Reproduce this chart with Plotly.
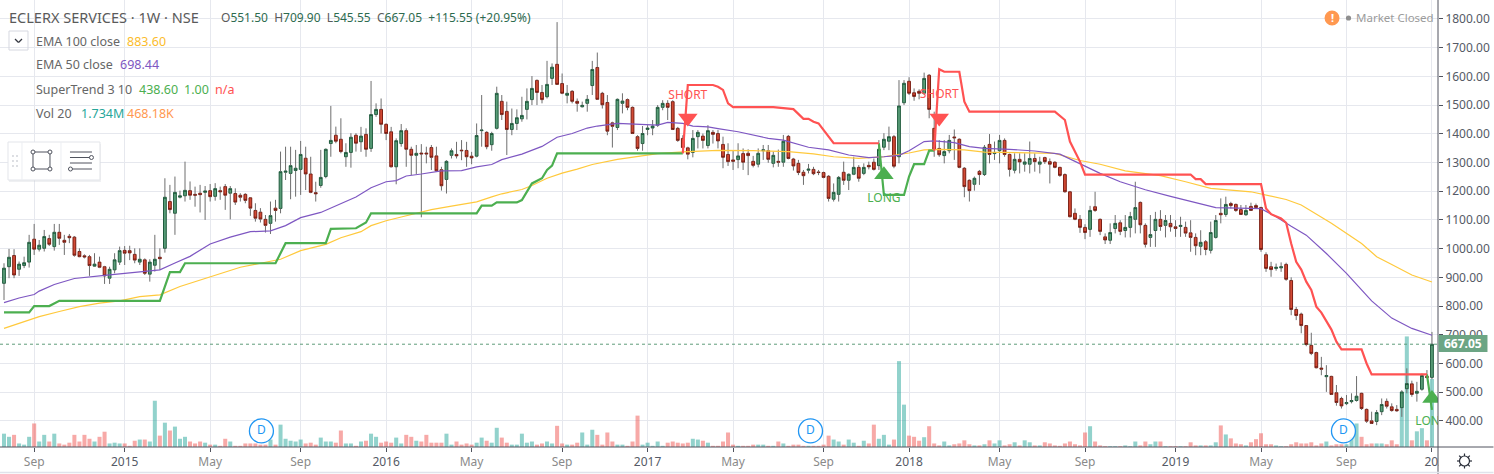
import math
import pandas as pd
import plotly.graph_objects as go

# ---------- data ----------
opens = [879,937,976,928,941,953,1033,998,1001,1035,
1007,1057,1029,1043,1040,990,975,972,939,953,
937,897,926,953,994,993,980,953,961,911,
942,970,1001,1164,1123,1179,1184,1202,1189,1193,
1196,1202,1182,1202,1216,1193,1192,1186,1189,1177,
1133,1127,1102,1088,1141,1140,1266,1262,1272,1276,
1315,1260,1195,1220,1251,1366,1395,1381,1320,1335,
1395,1372,1398,1349,1467,1485,1433,1407,1285,1366,
1411,1346,1325,1333,1333,1352,1323,1275,1241,1325,
1328,1343,1342,1322,1322,1411,1405,1362,1419,1513,
1478,1415,1436,1452,1485,1519,1586,1544,1529,1593,
1642,1575,1534,1548,1513,1494,1506,1568,1631,1541,
1509,1438,1422,1506,1519,1492,1390,1366,1415,1420,
1430,1492,1506,1512,1419,1384,1351,1335,1390,1392,
1359,1405,1401,1363,1328,1309,1310,1331,1332,1304,
1294,1341,1341,1297,1304,1301,1391,1312,1297,1266,
1273,1276,1267,1265,1252,1172,1189,1266,1238,1259,
1283,1262,1290,1301,1289,1353,1374,1390,1320,1508,
1583,1543,1548,1541,1604,1419,1349,1324,1341,1389,
1381,1280,1238,1224,1269,1258,1363,1331,1341,1377,
1328,1273,1311,1294,1294,1314,1294,1317,1303,1301,
1283,1258,1198,1123,1102,1074,1067,1146,1102,1041,
1029,1070,1090,1063,1074,1102,1161,1081,1039,1063,
1102,1081,1088,1076,1077,1074,1055,1039,1008,1024,
994,1039,1123,1119,1157,1154,1136,1118,1147,1150,
1143,979,937,931,933,945,889,788,772,732,
663,638,584,554,555,498,478,460,467,471,
496,440,400,398,432,468,449,440,446,512,
529,496,510,555,551.5]

highs = [949,999,998,955,972,1048,1086,1030,1065,1048,
1086,1086,1048,1051,1044,1001,980,978,984,972,
940,937,984,1007,1009,1010,1001,1001,966,963,
1048,1001,1245,1222,1251,1202,1303,1234,1216,1222,
1218,1225,1228,1216,1225,1218,1210,1193,1193,1179,
1158,1141,1117,1164,1170,1338,1355,1355,1344,1375,
1355,1320,1233,1344,1349,1497,1425,1454,1367,1402,
1402,1424,1419,1584,1506,1523,1436,1424,1384,1434,
1419,1355,1361,1364,1355,1361,1355,1285,1308,1349,
1372,1378,1372,1337,1436,1535,1409,1407,1564,1535,
1512,1488,1485,1529,1558,1601,1589,1570,1654,1645,
1789,1610,1570,1552,1523,1512,1535,1654,1683,1546,
1535,1442,1523,1541,1523,1495,1395,1427,1430,1448,
1500,1517,1517,1517,1424,1395,1355,1413,1413,1401,
1430,1413,1413,1390,1367,1343,1367,1349,1346,1323,
1349,1361,1361,1338,1345,1396,1396,1316,1309,1274,
1295,1285,1274,1268,1256,1227,1253,1303,1262,1320,
1291,1297,1303,1314,1378,1402,1425,1396,1587,1587,
1597,1558,1555,1613,1608,1477,1378,1378,1396,1415,
1384,1284,1241,1251,1274,1361,1399,1373,1396,1384,
1331,1332,1332,1332,1373,1332,1320,1320,1314,1304,
1285,1262,1201,1140,1117,1085,1149,1198,1105,1053,
1088,1117,1099,1117,1128,1233,1164,1088,1117,1128,
1134,1117,1117,1099,1111,1094,1099,1053,1064,1030,
1094,1117,1175,1181,1163,1157,1152,1152,1160,1157,
1146,987,954,948,952,951,900,797,777,734,
707,641,623,594,557,525,484,490,496,556,
498,443,432,438,478,478,461,455,507,583,
540,536,565,577,709.9]

lows = [821,897,897,905,932,934,978,990,990,1009,
993,1013,978,1019,972,970,966,905,937,932,
877,877,914,943,943,960,949,943,908,885,
920,926,986,1123,1048,1175,1164,1170,1146,1126,
1100,1164,1167,1170,1135,1102,1152,1164,1158,1114,
1094,1091,1056,1051,1094,1123,1239,1172,1181,1187,
1204,1193,1164,1212,1245,1320,1367,1332,1285,1282,
1338,1337,1320,1337,1459,1401,1378,1283,1224,1355,
1285,1256,1260,1109,1297,1274,1268,1202,1192,1314,
1314,1308,1285,1294,1318,1355,1346,1341,1415,1448,
1326,1395,1413,1442,1450,1500,1500,1506,1523,1570,
1570,1538,1506,1506,1477,1492,1477,1535,1518,1488,
1395,1352,1413,1471,1482,1399,1341,1341,1395,1395,
1424,1482,1448,1413,1372,1337,1311,1318,1349,1349,
1349,1366,1349,1280,1288,1274,1280,1274,1256,1283,
1283,1309,1299,1283,1285,1285,1311,1272,1256,1222,
1262,1256,1256,1245,1164,1164,1164,1222,1204,1256,
1233,1256,1276,1272,1274,1343,1343,1280,1297,1500,
1535,1515,1520,1535,1454,1320,1320,1297,1332,1309,
1280,1179,1164,1202,1222,1253,1297,1309,1297,1320,
1251,1262,1262,1268,1262,1268,1262,1295,1227,1280,
1250,1195,1109,1099,1055,1033,1041,1128,1047,1016,
1016,1053,1047,1039,1039,1053,1053,1004,1006,1006,
1062,1039,1059,1041,1041,1041,989,977,977,977,
983,1035,1088,1111,1140,1128,1117,1114,1131,1140,
989,919,902,923,919,888,768,751,705,660,
629,583,559,501,490,453,443,455,461,467,
438,393,389,385,420,443,432,432,414,496,
484,467,505,548,545.55]

closes = [932,970,908,946,951,1022,998,1012,1042,1015,
1057,1036,1022,1038,977,972,971,941,946,935,
905,928,961,993,984,985,960,963,914,953,
963,965,1179,1136,1196,1184,1203,1186,1186,1188,
1201,1181,1209,1198,1186,1209,1162,1179,1168,1141,
1106,1103,1081,1115,1133,1268,1270,1289,1280,1328,
1260,1196,1191,1248,1346,1377,1374,1338,1335,1388,
1367,1392,1346,1467,1485,1433,1401,1285,1376,1411,
1346,1325,1332,1330,1330,1318,1271,1219,1304,1341,
1323,1341,1320,1316,1394,1413,1355,1401,1541,1467,
1415,1436,1456,1464,1513,1558,1544,1519,1572,1632,
1572,1541,1541,1513,1506,1499,1520,1624,1520,1501,
1409,1426,1520,1514,1492,1401,1349,1401,1420,1427,
1492,1506,1492,1415,1377,1352,1329,1384,1405,1377,
1411,1398,1375,1318,1303,1304,1323,1301,1324,1290,
1332,1344,1311,1325,1301,1374,1314,1288,1265,1254,
1277,1261,1265,1248,1175,1196,1248,1238,1259,1283,
1245,1283,1285,1276,1346,1381,1390,1287,1497,1576,
1541,1530,1541,1593,1485,1347,1327,1338,1377,1386,
1283,1216,1202,1245,1258,1353,1328,1335,1377,1328,
1276,1311,1302,1302,1314,1303,1302,1303,1294,1283,
1255,1198,1111,1102,1074,1056,1133,1133,1060,1030,
1056,1088,1060,1074,1112,1143,1083,1015,1049,1102,
1077,1098,1076,1070,1081,1054,1039,1010,1022,997,
1056,1098,1118,1154,1150,1133,1119,1133,1133,1143,
997,931,927,935,937,893,788,767,732,666,
635,585,580,558,492,464,452,464,471,486,
443,399,391,429,457,451,436,435,501,530,
492,503,558,551,667.05]

volumes_m = [.34,.26,.31,.09,.06,.26,.60,.14,.31,.14,
.34,.09,.06,.11,.31,.14,.31,.21,.14,.26,
.39,.09,.11,.09,.09,.03,.16,.19,.19,.14,
1.18,.29,.62,.42,.52,.21,.26,.14,.09,.14,
.11,.06,.06,.03,.21,.14,.03,.03,.09,.09,
.09,.06,.06,.19,.06,.57,.21,.16,.14,.19,
.09,.11,.06,.24,.14,.14,.11,.42,.09,.09,
.03,.14,.16,.34,.26,.11,.14,.11,.24,.09,
.31,.26,.16,.14,.31,.11,.11,.11,.34,.06,
.14,.06,.09,.06,.11,.24,.16,.11,.49,.24,
.11,.06,.06,.34,.11,.14,.06,.09,.14,.09,
.54,.09,.06,.06,.11,.37,.06,.44,.31,.06,
.37,.14,.06,.06,.03,.14,.80,.06,.11,.03,
.14,.03,.11,.14,.11,.09,.11,.21,.19,.16,
.11,.03,.03,.14,.37,.06,.03,.03,.03,.06,
.06,.06,.03,.03,.14,.09,.03,.06,.06,.03,
.03,.03,.03,.06,.29,.19,.14,.06,.19,.11,
.03,.16,.09,.57,.21,.31,.06,.19,2.19,1.08,
.29,.26,.16,.25,.53,.09,.04,.14,.04,.07,
.09,.17,.07,.04,.04,.07,.17,.09,.17,.04,
.07,.12,.04,.17,.12,.04,.04,.12,.09,.04,
.03,.09,.14,.07,.04,.37,.53,.14,.04,.02,
.02,.02,.02,.04,.02,.14,.04,.14,.07,.14,
.14,.02,.02,.02,.02,.02,.12,.04,.04,.04,
.04,.12,.55,.32,.22,.09,.07,.04,.12,.20,
.35,.07,.07,.04,.02,.02,.07,.12,.09,.09,
.12,.04,.09,.14,.04,.07,.07,.07,.25,.60,
.26,.07,.09,.09,.09,.07,.17,.07,1.40,2.82,
.17,.40,.48,.17,1.734]

ema50_idx = [0,3,6,7,10,14,20,25,30,31,34,37,41,45,49,53,56,59,63,66,70,73,76,78,80,83,87,91,94,97,99,103,107,110,113,116,118,122,126,130,132,135,137,140,142,146,152,155,160,164,168,172,175,178,180,183,185,189,192,195,200,205,210,214,218,222,227,232,237,241,250,253,256,259,263,267,272,276,280,284]
ema50_val = [812,828,840,852,875,896,907,915,925,926,950,973,1016,1040,1059,1062,1080,1108,1126,1150,1180,1212,1233,1237,1253,1260,1271,1272,1285,1293,1310,1329,1356,1388,1401,1420,1427,1436,1434,1430,1440,1436,1427,1424,1418,1407,1384,1378,1353,1344,1326,1317,1320,1325,1341,1373,1375,1369,1355,1349,1346,1340,1329,1295,1262,1233,1205,1182,1161,1143,1139,1111,1078,1047,983,914,818,758,722,698.44]

ema100_idx = [0,3,7,11,15,19,23,27,31,35,39,43,47,51,55,59,64,67,71,73,76,79,83,85,89,94,97,99,103,105,108,111,114,117,122,126,130,135,138,142,149,156,161,165,170,175,180,183,186,191,195,200,205,209,214,218,223,230,235,240,248,255,258,264,270,273,276,280,284]
ema100_val = [722,740,763,781,798,810,818,833,839,868,891,914,935,949,963,993,1015,1038,1059,1080,1097,1110,1127,1136,1148,1163,1180,1191,1206,1220,1245,1263,1277,1293,1311,1322,1331,1337,1340,1342,1341,1338,1330,1320,1314,1320,1333,1344,1346,1344,1336,1335,1335,1332,1307,1294,1271,1254,1233,1210,1198,1171,1152,1088,1018,972,945,908,883.6]

st_up_idx = [0,5,6,9,11,31,33,35,36,54,56,64,65,70,72,73,94,95,97,98,102,103,105,107,108,109,110,135,None,174,175,179,180,181,183,184,185,None,283,284]
st_up_val = [778,778,800,800,818,818,918,918,949,949,1019,1019,1069,1071,1091,1123,1123,1150,1150,1161,1161,1169,1227,1245,1274,1289,1332,1332,None,1367,1187,1187,1251,1294,1294,1341,1341,None,562,438.6]
st_dn_idx = [135,136,141,142,143,144,145,153,157,159,160,161,162,165,174,None,185,186,187,190,191,192,209,211,212,214,215,236,237,238,239,250,251,252,254,255,256,257,258,259,260,261,262,263,264,265,266,270,271,272,283]
st_dn_val = [1332,1570,1570,1564,1553,1506,1493,1493,1486,1452,1452,1442,1436,1367,1367,None,1341,1625,1616,1616,1512,1477,1477,1448,1373,1303,1258,1258,1242,1242,1225,1225,1140,1120,1105,1090,1018,954,927,885,856,798,777,745,718,676,649,649,600,562,562]

short_idx = [136, 186]
short_arrow = [1455, 1455]
short_text = [1532, 1534]
long_idx = [175, 284]
long_arrow = [1257, 478]
long_text = [1173, 396]
dividend_idx = [51.2, 160.4, 266.4]
dividend_level = [0.41, 0.41, 0.41]

tick_idx = [6, 24, 41, 59, 76, 93, 111, 128, 145, 163, 180, 198, 215, 233, 250, 267, 284]
tick_names = ["Sep", "2015", "May", "Sep", "2016", "May", "Sep", "2017", "May", "Sep", "2018", "May", "Sep", "2019", "May", "Sep", "\u00a0\u00a0\u00a0\u00a02020"]
last_price = 667.05

# ---------- geometry & helpers ----------
W, H = 1494, 474
PW, PH = 1438.5, 447
FONT = "Noto Sans"

dates = pd.date_range("2014-07-21", periods=len(closes), freq="7D")
assert len(opens) == len(highs) == len(lows) == len(closes) == len(volumes_m) == 285
assert len(ema50_idx) == len(ema50_val) and len(ema100_idx) == len(ema100_val)
assert len(st_up_idx) == len(st_up_val) and len(st_dn_idx) == len(st_dn_val)

def at(v):
    return None if v is None else dates[0] + pd.Timedelta(days=7 * v)

def fx(x):
    return x / PW

def fy(y):
    return 1 - y / PH

shapes = []
annotations = []

def rect(x0, y0, x1, y1, fill="rgba(0,0,0,0)", line="#d6d8e0", w=1):
    shapes.append(dict(type="rect", xref="paper", yref="paper", x0=fx(x0), x1=fx(x1), y0=fy(y0), y1=fy(y1),
                       fillcolor=fill, line=dict(color=line, width=w)))

def seg(x0, y0, x1, y1, color="#50535e", w=1):
    shapes.append(dict(type="line", xref="paper", yref="paper", x0=fx(x0), x1=fx(x1), y0=fy(y0), y1=fy(y1),
                       line=dict(color=color, width=w)))

def dot(cx, cy, r, fill="#ffffff", line="#50535e", w=1):
    shapes.append(dict(type="circle", xref="paper", yref="paper", x0=fx(cx - r), x1=fx(cx + r), y0=fy(cy - r), y1=fy(cy + r),
                       fillcolor=fill, line=dict(color=line, width=w)))

def text(x, y, s, size=13, color="#666666", anchor="left"):
    annotations.append(dict(xref="paper", yref="paper", x=fx(x), y=fy(y), text=s, showarrow=False, xanchor=anchor,
                            yanchor="middle", font=dict(family=FONT, size=size, color=color), borderpad=0, borderwidth=0))

# ---------- traces ----------
fig = go.Figure()

vol_colors = ["rgba(38,166,154,0.5)" if c >= o else "rgba(239,83,80,0.5)" for o, c in zip(opens, closes)]
fig.add_trace(go.Bar(x=dates, y=volumes_m, marker=dict(color=vol_colors, line_width=0), yaxis="y", hoverinfo="skip"))
fig.add_trace(go.Scatter(x=[at(v) for v in dividend_idx], y=dividend_level, yaxis="y", mode="markers+text", text=["D"] * 3,
                         textposition="middle center", textfont=dict(family=FONT, size=12, color="#2196f3"),
                         marker=dict(size=24, color="rgba(255,255,255,0.85)", line=dict(color="#2196f3", width=1.3)),
                         hoverinfo="skip"))

wx, wy = [], []
for d, o, h, l, c in zip(dates, opens, highs, lows, closes):
    top, bot = max(o, c), min(o, c)
    wx += [d, d, None, d, d, None]
    wy += [h, top, None, bot, l, None]
fig.add_trace(go.Scatter(x=wx, y=wy, yaxis="y2", mode="lines", line=dict(color="#6e6e6e", width=1), hoverinfo="skip"))

fig.add_trace(go.Candlestick(
    x=dates, open=opens, close=closes,
    high=[max(o, c) for o, c in zip(opens, closes)], low=[min(o, c) for o, c in zip(opens, closes)],
    yaxis="y2", hoverinfo="skip",
    increasing=dict(fillcolor="#5a9e79", line=dict(color="#1e5a3c", width=1)),
    decreasing=dict(fillcolor="#d24a35", line=dict(color="#7a1d12", width=1)),
))

fig.add_trace(go.Scatter(x=[at(i) for i in ema100_idx], y=ema100_val, yaxis="y2", mode="lines",
                         line=dict(color="#ffc93c", width=1.2), hoverinfo="skip"))
fig.add_trace(go.Scatter(x=[at(i) for i in ema50_idx], y=ema50_val, yaxis="y2", mode="lines",
                         line=dict(color="#7e57c2", width=1.2), hoverinfo="skip"))
fig.add_trace(go.Scatter(x=[at(i) for i in st_up_idx], y=st_up_val, yaxis="y2", mode="lines", connectgaps=False,
                         line=dict(color="#4caf50", width=2.2), hoverinfo="skip"))
fig.add_trace(go.Scatter(x=[at(i) for i in st_dn_idx], y=st_dn_val, yaxis="y2", mode="lines", connectgaps=False,
                         line=dict(color="#ff5252", width=2.2), hoverinfo="skip"))

fig.add_trace(go.Scatter(x=[at(i) for i in short_idx], y=short_arrow, yaxis="y2", mode="markers",
                         marker=dict(symbol="triangle-down", size=17, color="#ff5252", line_width=0), hoverinfo="skip"))
fig.add_trace(go.Scatter(x=[at(i) for i in short_idx], y=short_text, yaxis="y2", mode="text", text=["SHORT"] * 2,
                         textposition="middle center", textfont=dict(family=FONT, size=12, color="#ff5252"), hoverinfo="skip"))
fig.add_trace(go.Scatter(x=[at(i) for i in long_idx], y=long_arrow, yaxis="y2", mode="markers",
                         marker=dict(symbol="triangle-up", size=17, color="#4caf50", line_width=0), hoverinfo="skip"))
fig.add_trace(go.Scatter(x=[at(i) for i in long_idx], y=long_text, yaxis="y2", mode="text", text=["LONG"] * 2,
                         textposition="middle center", textfont=dict(family=FONT, size=12, color="#4caf50"), hoverinfo="skip"))

# ---------- chrome ----------
shapes.append(dict(type="line", xref="paper", yref="y2", x0=0, x1=1, y0=last_price, y1=last_price,
                   line=dict(color="#5f9c7a", width=1, dash="dot")))
rect(1439.5, 448, 1494, 472, "#ffffff", "rgba(0,0,0,0)", 0)   # crops the last date label at the price scale
seg(1438.5, 0, 1438.5, 474)
seg(0, 447, 1494, 447)
seg(0, 472.5, 1494, 472.5, "#e0e3eb", 1.5)

# dropdown button
rect(9, 31, 28, 50)
seg(15, 39, 18.5, 42.5, "#33363f", 1.2)
seg(18.5, 42.5, 22, 39, "#33363f", 1.2)

# drawing toolbar
rect(9, 144, 101, 182, "rgba(190,195,205,0.25)", "rgba(0,0,0,0)", 0)
rect(8, 142, 100, 180, "#ffffff", "#e3e5ea", 1)
seg(22, 142, 22, 180, "#eceef2")
seg(61, 142, 61, 180, "#eceef2")
for dx in (13, 17):
    for dy in (156, 161, 166):
        dot(dx, dy, 1, "#d2d4da", "#d2d4da", 0)
seg(33, 152, 50, 152); seg(33, 169, 50, 169); seg(33, 152, 33, 169); seg(50, 152, 50, 169)
for cx, cy in ((33, 152), (50, 152), (33, 169), (50, 169)):
    dot(cx, cy, 2)
for yy in (152, 157.5, 163, 169):
    seg(70, yy, 92, yy)
dot(91.5, 157.5, 2)
dot(70.5, 169, 2)

# market state
dot(1332.5, 18, 7.5, "#ff9850", "#ff9850", 0)
text(1332.5, 18, "<b>!</b>", 11, "#ffffff", "center")
dot(1349, 18, 2.6, "#8e8e8e", "#8e8e8e", 0)
text(1356, 18, "Market Closed", 11.5, "#9b9b9b")

# header and legend
G = "#2e6b4f"
text(9, 17, "ECLERX SERVICES · 1W · NSE", 14.5, "#5a5a5a")
text(221, 17, f"O<span style='color:{G}'>551.50</span>  H<span style='color:{G}'>709.90</span>  "
              f"L<span style='color:{G}'>545.55</span>  C<span style='color:{G}'>667.05</span>  "
              f"<span style='color:{G}'>+115.55 (+20.95%)</span>", 12, "#5a5a5a")
text(36, 41, "EMA 100 close", 12.5)
text(127, 41, "883.60", 12.5, "#fbbc2c")
text(36, 65, "EMA 50 close", 12.5)
text(120, 65, "698.44", 12.5, "#7e57c2")
text(36, 89, "SuperTrend 3 10", 12.5)
text(139, 89, "438.60", 12.5, "#4caf50")
text(184, 89, "1.00", 12.5, "#4caf50")
text(215, 89, "n/a", 12.5, "#ff5252")
text(36, 113, "Vol 20", 12.5)
text(81, 113, "1.734M", 12.5, "#26a69a")
text(127, 113, "468.18K", 12.5, "#ff9850")

# last-price tag
rect(1439, 335, 1488, 352, "#6ca584", "#6ca584", 0)
text(1463.5, 343.5, "<b>667.05</b>", 12, "#ffffff", "center")

# settings cog
dot(1465, 461, 5, "#ffffff", "#2a2e39", 1.2)
for k in range(8):
    a = k * math.pi / 4
    seg(1465 + 5 * math.cos(a), 461 + 5 * math.sin(a), 1465 + 7.5 * math.cos(a), 461 + 7.5 * math.sin(a), "#2a2e39", 1.2)

tick_text = [f"<span style='color:#555a66'>{t}</span>" if t[-1].isdigit() else f"<span style='color:#8a8a8a'>{t}</span>" for t in tick_names]

fig.update_layout(
    width=W, height=H, autosize=False, showlegend=False, plot_bgcolor="#ffffff", paper_bgcolor="#ffffff",
    margin=dict(l=0, r=W - PW, t=0, b=H - PH, pad=0), bargap=0.2, boxgap=0.22, dragmode=False, hovermode=False,
    xaxis=dict(type="date", range=[at(-0.795), at(285.2)], rangeslider=dict(visible=False),
               tickmode="array", tickvals=[dates[i] for i in tick_idx], ticktext=tick_text,
               showgrid=True, gridcolor="#e6e8ee", gridwidth=1, ticks="outside", ticklen=4, tickcolor="#50535e",
               tickfont=dict(family=FONT, size=12, color="#666666"), zeroline=False, showline=False, automargin=False),
    yaxis=dict(range=[0, 11.4], visible=False, showgrid=False, fixedrange=True),
    yaxis2=dict(overlaying="y", side="right", range=[309, 1866], tick0=0, dtick=100, tickformat=".2f",
                showgrid=True, gridcolor="#e6e8ee", gridwidth=1, ticks="outside", ticklen=4, tickcolor="#50535e",
                tickfont=dict(family=FONT, size=12, color="#555a66"), zeroline=False, showline=False, fixedrange=True, automargin=False),
    shapes=shapes, annotations=annotations,
)

fig.write_html("out.html", config={"displayModeBar": False}, post_script="document.body.style.margin='0';document.body.style.overflow='hidden';")
